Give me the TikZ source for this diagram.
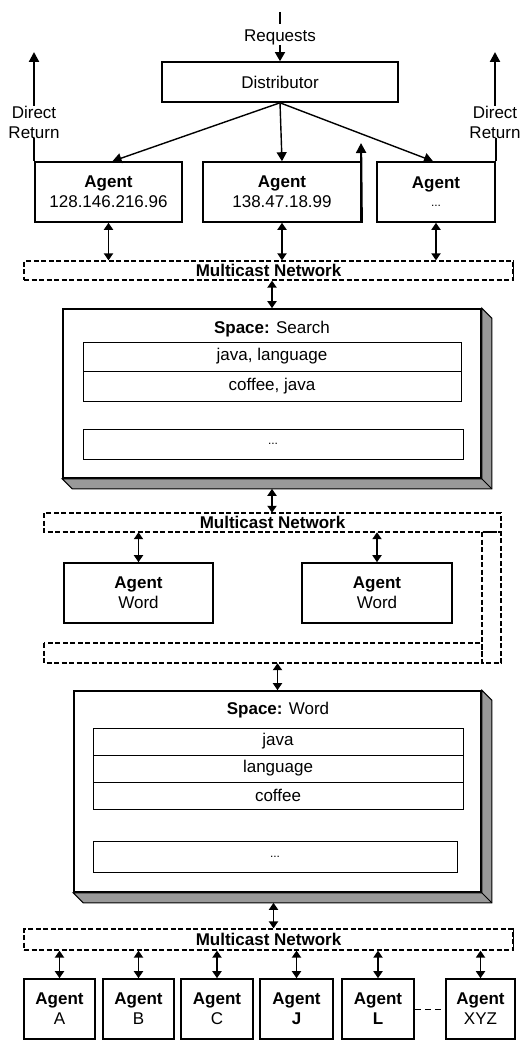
\documentclass[tikz,border=0pt]{standalone}
\usepackage{fontspec}
\setmainfont{Liberation Sans}
\usetikzlibrary{arrows.meta,calc}
\begin{document}
\begin{tikzpicture}[x=1pt,y=-1pt,
  every node/.style={font=\fontsize{17pt}{20pt}\selectfont, inner sep=0pt},
  box/.style={draw, line width=1.6pt, fill=white, align=center},
  row/.style={draw, line width=1pt, fill=white},
  net/.style={draw, line width=1.2pt, dash pattern=on 5pt off 2.5pt},
  shade/.style={fill=black!40, draw=black, line width=1pt},
  arr/.style={line width=1.4pt, -{Triangle[length=9pt,width=10pt]}},
  upar/.style={line width=2.2pt, -{Triangle[length=10pt,width=10pt]}},
  darr/.style={line width=1.8pt, {Triangle[length=7pt,width=9pt]}-{Triangle[length=7pt,width=9pt]}},
  lbl/.style={align=center},
  dots/.style={font=\fontsize{12pt}{14pt}\selectfont}
]
\useasboundingbox (0,0) rectangle (528,1041);

% ---------- top ----------
\coordinate (rq) at (280,12);
\coordinate (rq2) at (280,24);
\node (req) at (280,37) {Requests};
\node[box, minimum width=236pt, minimum height=40pt] (dist) at (280,82) {Distributor};
\draw[line width=1.2pt] (rq) -- (rq2);
\draw[arr] (req.south) -- (dist.north);

\node[box, minimum width=147pt, minimum height=60pt] (a1) at (108.5,192) {\textbf{Agent}\\128.146.216.96};
\node[box, minimum width=158pt, minimum height=60pt] (a2) at (282,192) {\textbf{Agent}\\138.47.18.99};
\node[box, minimum width=118pt, minimum height=60pt] (a3) at (436,192) {\textbf{Agent}\\[-2pt]{\fontsize{12pt}{14pt}\selectfont ...}};

\draw[arr] (dist.south) -- ($(a1.north)+(4,0)$);
\draw[arr] (dist.south) -- (a2.north);
\draw[arr] (dist.south) -- ($(a3.north)+(-3,0)$);

% direct returns
\node[lbl] (drl) at (34,122) {Direct\\Return};
\node[lbl] (drr) at (495,122) {Direct\\Return};
\coordinate (drlt) at (34,52);
\coordinate (drrt) at (495,52);
\draw[line width=2.2pt] (a1.north west) -- (drl.south -| a1.north west);
\draw[upar] (drl.north) -- (drlt);
\draw[line width=2.2pt] (a3.north east) -- (drr.south -| a3.north east);
\draw[upar] (drr.north) -- (drrt);
\coordinate (mup) at (361,143);
\draw[upar] (a2.south east) -- (mup);

% network 1
\node[net, minimum width=489pt, minimum height=19pt] (net1) at (268.5,270.5) {\textbf{Multicast Network}};
\draw[line width=1.6pt] (net1.north east) -- (net1.south east);
\draw[darr] (a1.south) -- (a1.south |- net1.north);
\draw[darr] (a2.south) -- (a2.south |- net1.north);
\draw[darr] (a3.south) -- (a3.south |- net1.north);

% space: search
\node[box, minimum width=418pt, minimum height=169pt] (sp1) at (272,393.5) {};
\fill[shade] (sp1.north east) -- ++(10,10) -- ($(sp1.south east)+(10,10)$) -- ($(sp1.south west)+(10,10)$) -- (sp1.south west) -- (sp1.south east) -- cycle;
\draw[line width=1pt] (sp1.south east) -- ++(10,10);
\node (sp1t) at (272,329) {\textbf{Space:} Search};
\node[row, minimum width=378pt, minimum height=29pt] (s1r1) at (272,356.5) {java, language};
\node[row, minimum width=378pt, minimum height=30pt] (s1r2) at (272,386) {coffee, java};
\node[row, minimum width=380pt, minimum height=30pt, dots] (s1r3) at (273,444) {...};
\draw[darr] (net1.south -| sp1.north) -- (sp1.north);

% network 2 (wrap-around)
\node[minimum width=457pt, minimum height=19pt] (net2) at (272.5,522.5) {\textbf{Multicast Network}};
\draw[net] (44,513) rectangle (501,532);
\draw[net] (482,532) rectangle (501,663);
\draw[net] (44,643) rectangle (482,663);
\node[minimum width=457pt, minimum height=20pt] (net2b) at (272.5,653) {};
\coordinate (sp1b) at ($(sp1.south)+(0,10)$);
\draw[darr] (sp1b) -- (sp1b |- net2.north);

\node[box, minimum width=149pt, minimum height=60pt] (aw1) at (138.5,593) {\textbf{Agent}\\Word};
\node[box, minimum width=150pt, minimum height=60pt] (aw2) at (377,593) {\textbf{Agent}\\Word};
\draw[darr] (aw1.north |- net2.south) -- (aw1.north);
\draw[darr] (aw2.north |- net2.south) -- (aw2.north);

% space: word
\node[box, minimum width=407pt, minimum height=201pt] (sp2) at (277.5,791.5) {};
\fill[shade] (sp2.north east) -- ++(10,10) -- ($(sp2.south east)+(10,10)$) -- ($(sp2.south west)+(10,10)$) -- (sp2.south west) -- (sp2.south east) -- cycle;
\draw[line width=1pt] (sp2.south east) -- ++(10,10);
\node (sp2t) at (278,710) {\textbf{Space:} Word};
\node[row, minimum width=370pt, minimum height=27pt] (s2r1) at (278,741.5) {java};
\node[row, minimum width=370pt, minimum height=27pt] (s2r2) at (278,768.5) {language};
\node[row, minimum width=370pt, minimum height=27pt] (s2r3) at (278,795.5) {coffee};
\node[row, minimum width=364pt, minimum height=31pt, dots] (s2r4) at (275,856.5) {...};
\draw[darr] (net2b.south -| sp2.north) -- (sp2.north);

% network 3
\node[net, minimum width=489pt, minimum height=21pt] (net3) at (268.5,939.5) {\textbf{Multicast Network}};
\draw[line width=1.6pt] (net3.north east) -- (net3.south east);
\coordinate (sp2b) at ($(sp2.south)+(-4,10)$);
\draw[darr] (sp2b) -- (sp2b |- net3.north);

% bottom agents
\node[box, minimum width=71pt, minimum height=60pt] (ba) at (59.5,1009) {\textbf{Agent}\\A};
\node[box, minimum width=71pt, minimum height=60pt] (bb) at (138.5,1009) {\textbf{Agent}\\B};
\node[box, minimum width=72pt, minimum height=60pt] (bc) at (217,1009) {\textbf{Agent}\\C};
\node[box, minimum width=73pt, minimum height=60pt] (bj) at (296.5,1009) {\textbf{Agent}\\\textbf{J}};
\node[box, minimum width=72pt, minimum height=60pt] (bl) at (378,1009) {\textbf{Agent}\\\textbf{L}};
\node[box, minimum width=69pt, minimum height=60pt] (bx) at (480.5,1009) {\textbf{Agent}\\XYZ};
\foreach \n in {ba,bb,bc,bj,bl,bx}
  \draw[darr] (\n.north |- net3.south) -- (\n.north);
\draw[line width=1pt, dash pattern=on 6pt off 4pt] (bl.east) -- (bx.west);
\end{tikzpicture}
\end{document}
